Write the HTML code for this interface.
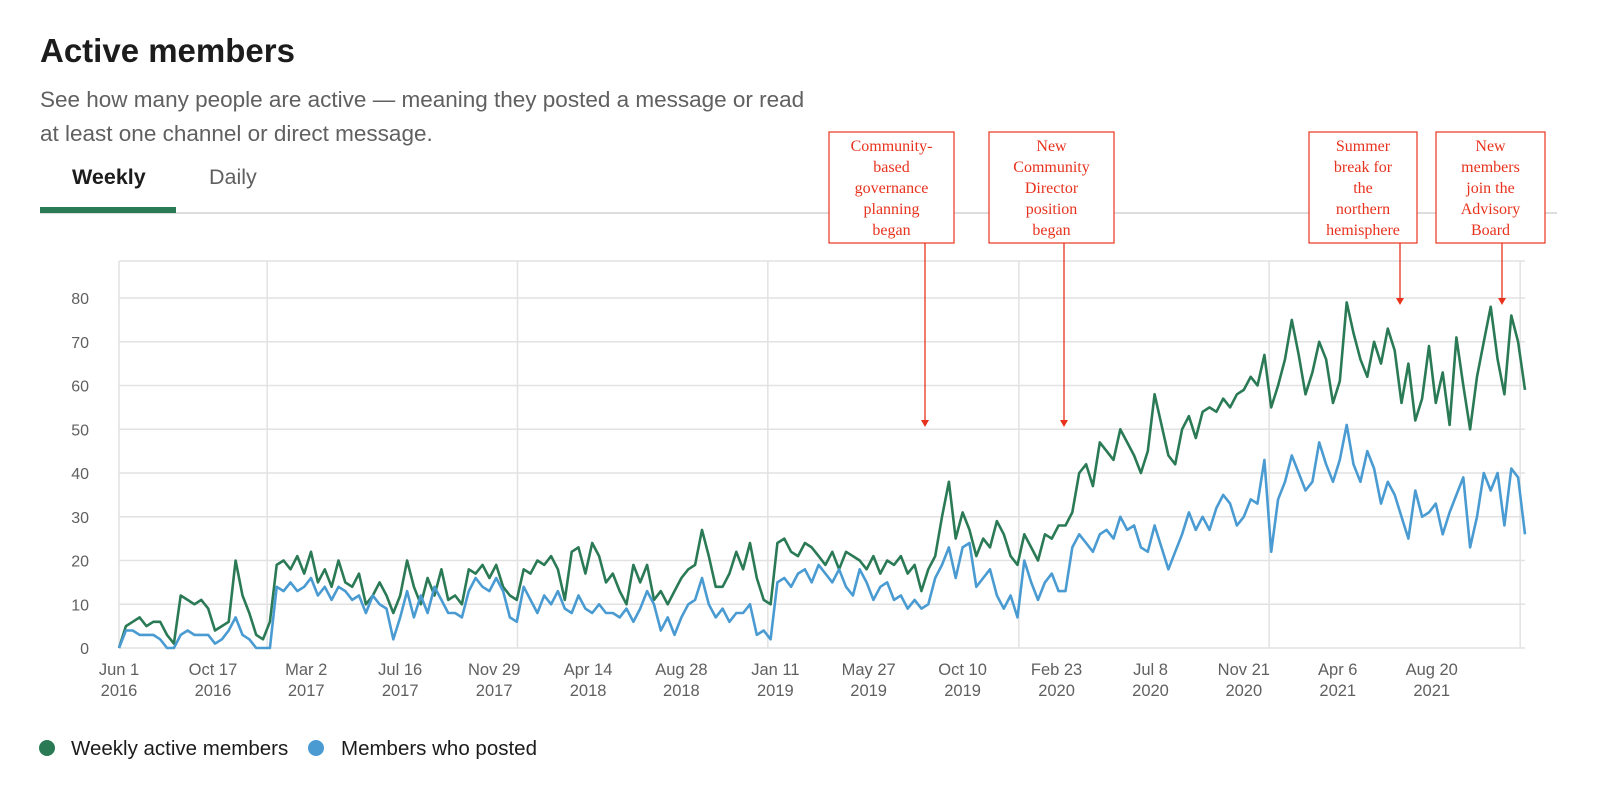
<!DOCTYPE html>
<html><head><meta charset="utf-8">
<style>
body{margin:0;background:#fff;width:1600px;height:801px;overflow:hidden;font-family:"Liberation Sans",sans-serif;}
svg{position:absolute;left:0;top:0;}
</style></head>
<body>
<svg width="1600" height="801" viewBox="0 0 1600 801">
  <text x="40" y="62" font-size="33" font-weight="bold" fill="#1d1c1d">Active members</text>
  <text x="40" y="107" font-size="22.5" fill="#616061">See how many people are active — meaning they posted a message or read</text>
  <text x="40" y="141" font-size="22.5" fill="#616061">at least one channel or direct message.</text>
  <text x="72" y="184" font-size="21.5" font-weight="bold" fill="#1d1c1d">Weekly</text>
  <text x="209" y="184" font-size="21.5" fill="#616061">Daily</text>
  <rect x="40" y="212" width="1517" height="2" fill="#dddddd"/>
  <rect x="40" y="207" width="136" height="6" fill="#2b7a56"/>
  <g id="grid"></g>
  <g id="series"></g>
  <g id="annotations"></g>
  <circle cx="47" cy="748" r="8" fill="#2b7a56"/>
  <text x="71" y="755" font-size="20.5" fill="#1d1c1d">Weekly active members</text>
  <circle cx="316" cy="748" r="8" fill="#4a9bd2"/>
  <text x="341" y="755" font-size="20.5" fill="#1d1c1d">Members who posted</text>
</svg>
<script>
const yTicks=[0,10,20,30,40,50,60,70,80];
const xTickTop=["Jun 1","Oct 17","Mar 2","Jul 16","Nov 29","Apr 14","Aug 28","Jan 11","May 27","Oct 10","Feb 23","Jul 8","Nov 21","Apr 6","Aug 20"];
const xTickBottom=["2016","2016","2017","2017","2017","2018","2018","2019","2019","2019","2020","2020","2020","2021","2021"];
const xTickIndex=[0,13.7,27.3,41,54.7,68.4,82,95.7,109.3,123,136.7,150.4,164,177.7,191.4];
const yearIndex=[0,21.6,58.1,94.6,131.2,167.7,204.3];
const weekly=[0,5,6,7,5,6,6,3,1,12,11,10,11,9,4,5,6,20,12,8,3,2,6,19,20,18,21,17,22,15,18,14,20,15,14,17,10,12,15,12,8,12,20,14,10,16,12,18,11,12,10,18,17,19,16,19,14,12,11,18,17,20,19,21,18,11,22,23,17,24,21,15,17,13,10,19,15,19,11,13,10,13,16,18,19,27,21,14,14,17,22,18,24,16,11,10,24,25,22,21,24,23,21,19,22,18,22,21,20,18,21,17,20,19,21,17,19,13,18,21,30,38,25,31,27,21,25,23,29,26,21,19,26,23,20,26,25,28,28,31,40,42,37,47,45,43,50,47,44,40,45,58,51,44,42,50,53,48,54,55,54,57,55,58,59,62,60,67,55,60,66,75,67,58,63,70,66,56,61,79,72,66,62,70,65,73,68,56,65,52,57,69,56,63,51,71,60,50,62,70,78,66,58,76,70,59];
const posted=[0,4,4,3,3,3,2,0,0,3,4,3,3,3,1,2,4,7,3,2,0,0,0,14,13,15,13,14,16,12,14,11,14,13,11,12,8,12,10,9,2,7,13,7,12,8,14,11,8,8,7,13,16,14,13,16,13,7,6,14,11,8,12,10,13,9,8,12,9,8,10,8,8,7,9,6,9,13,10,4,7,3,7,10,11,16,10,7,9,6,8,8,10,3,4,2,15,16,14,17,18,15,19,17,15,18,14,12,18,15,11,14,15,11,12,9,11,9,10,16,19,23,16,23,24,14,16,18,12,9,12,7,20,15,11,15,17,13,13,23,26,24,22,26,27,25,30,27,28,23,22,28,23,18,22,26,31,27,30,27,32,35,33,28,30,34,33,43,22,34,38,44,40,36,38,47,42,38,43,51,42,38,45,41,33,38,35,30,25,36,30,31,33,26,31,35,39,23,30,40,36,40,28,41,39,26];

const NS="http://www.w3.org/2000/svg";
const x0=119,x1=1525,n=205,yBase=648,yPer=4.375;
const xs=i=>x0+(x1-x0)*i/n;
const ys=v=>yBase-v*yPer;
function mk(tag,attrs,parent){const e=document.createElementNS(NS,tag);for(const k in attrs)e.setAttribute(k,attrs[k]);parent.appendChild(e);return e;}
const grid=document.getElementById('grid');
const gridTop=mk('line',{x1:x0,x2:x1,y1:261,y2:261,stroke:'#e2e2e2','stroke-width':1.5},grid);


yTicks.forEach(v=>{
  const l=mk('line',{x1:x0,x2:x1,y1:ys(v),y2:ys(v),stroke:'#e2e2e2','stroke-width':1.5},grid);
  
  
  const t=mk('text',{x:89,y:ys(v)+6,'font-size':16,fill:'#616061','text-anchor':'end'},grid);
  t.textContent=v;
  
  
});
yearIndex.forEach(i=>{
  const l=mk('line',{x1:xs(i),x2:xs(i),y1:261,y2:yBase,stroke:'#e2e2e2','stroke-width':1.5},grid);
  
  
});
xTickTop.forEach((s,k)=>{
  const t=mk('text',{x:xs(xTickIndex[k]),y:675,'font-size':16.5,fill:'#616061','text-anchor':'middle'},grid);
  t.textContent=s;
  
  
  const t2=mk('text',{x:xs(xTickIndex[k]),y:696,'font-size':16.5,fill:'#616061','text-anchor':'middle'},grid);
  t2.textContent=xTickBottom[k];
  
  
});
const ser=document.getElementById('series');
function line(arr,col,name){
  const p=mk('polyline',{points:arr.map((v,i)=>xs(i).toFixed(1)+','+ys(v).toFixed(1)).join(' '),fill:'none',stroke:col,'stroke-width':2.6,'stroke-linejoin':'round'},ser);
  
  
}
line(weekly,'#2b7a56','weekly-active-line');
line(posted,'#4a9bd2','members-posted-line');

const notes=[
 {x:829,w:125,ax:925,ay:427,lines:["Community-","based","governance","planning","began"],name:'note-governance'},
 {x:989,w:125,ax:1064,ay:427,lines:["New","Community","Director","position","began"],name:'note-director'},
 {x:1309,w:108,ax:1400,ay:305,lines:["Summer","break for","the","northern","hemisphere"],name:'note-summer'},
 {x:1436,w:109,ax:1502,ay:305,lines:["New","members","join the","Advisory","Board"],name:'note-advisory'}
];
const an=document.getElementById('annotations');
notes.forEach(nt=>{
  const g=mk('g',{},an);
  
  
  mk('rect',{x:nt.x,y:132,width:nt.w,height:111,fill:'#fff',stroke:'#e8321e','stroke-width':1.2},g);
  nt.lines.forEach((s,k)=>{
    const t=mk('text',{x:nt.x+nt.w/2,y:151+k*21,'font-size':16,fill:'#e8321e','text-anchor':'middle','font-family':'Liberation Serif, serif'},g);
    t.textContent=s;
  });
  mk('line',{x1:nt.ax,x2:nt.ax,y1:243,y2:nt.ay-6,stroke:'#e8321e','stroke-width':1.3},g);
  mk('polygon',{points:`${nt.ax-4},${nt.ay-7} ${nt.ax+4},${nt.ay-7} ${nt.ax},${nt.ay}`,fill:'#e8321e'},g);
});
</script>
</body></html>
